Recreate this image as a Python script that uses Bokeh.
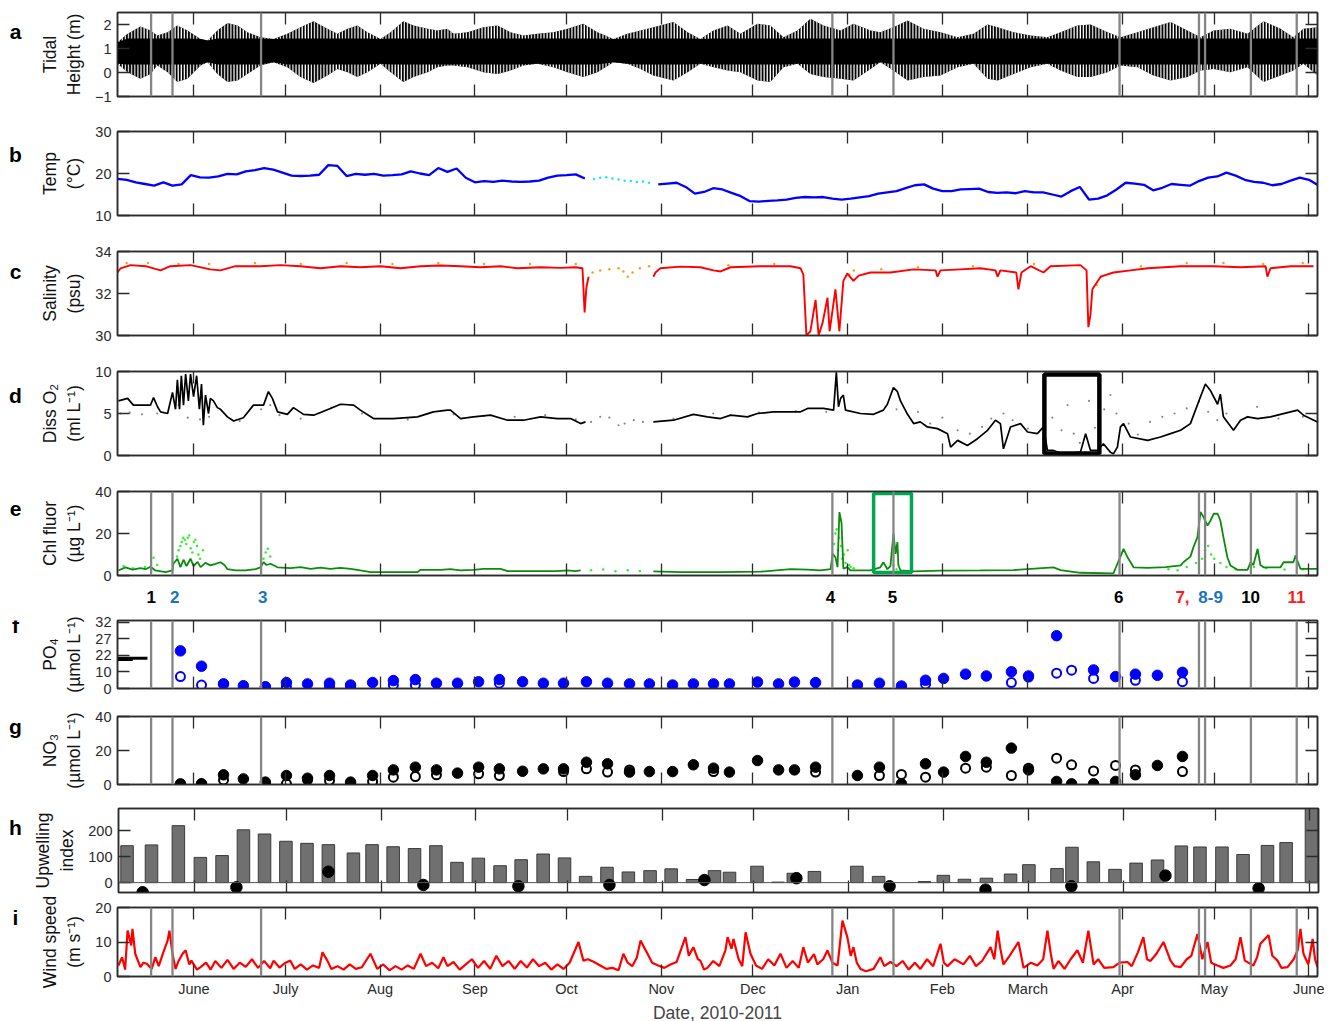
import numpy as np
import pandas as pd
from bokeh.plotting import figure
from bokeh.layouts import column, row
from bokeh.models import Range1d, FixedTicker, LinearAxis, Span
from bokeh.embed import file_html
from bokeh.resources import INLINE
from bokeh.core.properties import value

# ---------------- DATA (x = days since START_DATE) ----------------
START_DATE = "2010-05-07"
END_DAY = 392.8

month_dates = ["2010-06-01", "2010-07-01", "2010-08-01", "2010-09-01", "2010-10-01", "2010-11-01",
               "2010-12-01", "2011-01-01", "2011-02-01", "2011-03-01", "2011-04-01", "2011-05-01", "2011-06-01"]
month_labels = ["June", "July", "Aug", "Sep", "Oct", "Nov", "Dec", "Jan", "Feb", "March", "Apr", "May", "June"]

event_dates = ["2010-05-18", "2010-05-25", "2010-06-23", "2010-12-27", "2011-01-16",
               "2011-03-31", "2011-04-26", "2011-04-28", "2011-05-13", "2011-05-28"]
event_text = ["1", "2", "3", "4", "5", "6", "7,", "8-9", "10", "11"]
event_text_day = [11.0, 18.7, 47.5, 233.4, 253.7, 327.7, 348.6, 357.8, 370.9, 385.9]
event_text_color = ["#000000", "#1c75bc", "#1c75bc", "#000000", "#000000", "#000000",
                    "#ff1a1a", "#1c75bc", "#000000", "#ff1a1a"]

# (a) tidal height envelope
tide_day = [0, 3.3, 7.5, 10.8, 13.0, 16.4, 19.6, 22.9, 27.2, 29.5, 32.7, 36.0, 39.3, 42.5, 46.8, 51.1,
            55.6, 59.9, 64.2, 68.7, 72.0, 75.3, 78.5, 81.8, 86.1, 89.4, 93.6, 96.9, 101.5, 104.7, 108.0,
            110.0, 114.6, 119.8, 124.4, 128.6, 132.9, 137.5, 142.7, 147.3, 152.5, 157.1, 162.4, 166.9,
            171.2, 175.4, 182.0, 186.6, 190.8, 195.1, 199.7, 203.9, 209.5, 213.7, 218.0, 222.6, 226.8,
            231.1, 236.7, 240.9, 246.5, 249.7, 254.0, 258.6, 263.8, 269.4, 275.0, 280.2, 284.8, 288.1,
            293.3, 298.9, 304.4, 308.7, 314.2, 318.5, 324.1, 328.3, 333.9, 339.1, 344.7, 350.2, 354.5,
            358.8, 364.3, 369.9, 375.1, 380.7, 384.9, 388.2, 392.8]
tide_high = [1.26, 1.61, 1.92, 1.75, 1.54, 1.68, 1.96, 1.75, 1.40, 1.33, 1.75, 2.06, 1.96, 1.68, 1.47, 1.40,
             1.61, 1.89, 2.14, 1.82, 1.61, 1.82, 1.96, 1.68, 1.40, 1.68, 2.14, 1.96, 1.82, 1.75, 1.82,
             1.61, 1.68, 1.89, 1.96, 1.68, 1.54, 1.61, 1.68, 1.82, 2.03, 1.68, 1.40, 1.61,
             1.75, 1.89, 2.10, 1.68, 1.40, 1.75, 1.96, 1.61, 2.03, 1.96, 1.47, 1.75, 2.24,
             1.96, 1.75, 2.03, 1.75, 1.68, 1.89, 2.17, 1.82, 1.68, 1.47, 1.61, 2.00, 1.89,
             1.68, 1.54, 1.47, 1.68, 1.96, 2.00, 1.68, 1.47, 1.68, 1.89, 2.10, 1.75, 1.47,
             1.75, 1.82, 1.61, 2.14, 1.82, 1.47, 1.82, 1.89]
tide_low = [0.36, 0.01, -0.26, -0.06, 0.29, 0.01, -0.40, -0.26, 0.29, 0.43, -0.06, -0.40, -0.33, -0.06, 0.29, 0.43,
            0.22, -0.19, -0.44, -0.13, 0.15, 0.01, -0.19, 0.01, 0.36, 0.01, -0.40, -0.19, 0.01, 0.22, 0.29,
            0.29, 0.22, 0.01, -0.06, 0.08, 0.29, 0.36, 0.22, 0.01, -0.19, 0.01, 0.43, 0.36,
            0.15, -0.13, -0.33, 0.01, 0.36, 0.22, 0.08, 0.01, -0.33, -0.40, 0.22, 0.36, -0.06,
            -0.19, -0.26, -0.33, 0.15, 0.43, 0.08, -0.33, -0.19, -0.13, 0.22, 0.36, -0.26, -0.33,
            -0.06, 0.22, 0.36, 0.08, -0.19, -0.19, 0.01, 0.29, 0.22, -0.13, -0.33, -0.19, 0.08,
            0.15, 0.01, 0.22, -0.40, -0.13, 0.08, 0.36, -0.13]

# (b) temperature, every 3 days from START_DATE
temp_step = 3
temp_c = [18.7, 18.5, 17.9, 17.5, 17.1, 17.9, 17.1, 17.4, 19.6, 19.1, 19.0, 19.3, 19.9, 19.8, 20.5, 20.8,
          21.3, 20.9, 20.2, 19.5, 19.4, 19.5, 19.7, 22.0, 21.8, 19.4, 19.9, 19.7, 19.9, 19.5, 19.6, 19.8,
          20.5, 20.0, 19.6, 21.3, 20.4, 21.2, 19.0, 17.9, 18.2, 18.0, 18.3, 18.1, 18.0, 18.1, 18.3, 19.0,
          19.5, 19.6, 19.8, 18.8, np.nan, np.nan, np.nan, np.nan, np.nan, np.nan, np.nan,
          17.4, 17.6, 17.8, 16.8, 15.2, 15.6, 16.5, 16.2, 15.4, 14.6, 13.4, 13.3, 13.5, 13.6, 13.8, 14.2,
          14.4, 14.3, 14.4, 14.0, 13.8, 14.0, 14.3, 14.6, 15.2, 15.5, 15.8, 16.5, 17.2, 17.4, 16.4, 15.8,
          15.8, 16.2, 16.3, 16.4, 15.6, 15.4, 15.5, 15.3, 15.8, 15.5, 15.5, 15.0, 14.5, 15.8, 16.8, 13.8,
          14.0, 14.8, 16.2, 17.8, 17.6, 17.3, 16.0, 16.6, 17.5, 17.3, 17.1, 18.2, 19.0, 19.3, 20.2, 19.5,
          18.5, 18.0, 17.8, 17.2, 17.5, 18.3, 19.0, 18.5, 17.2]
temp2_day = [156, 158, 160, 162, 164, 166, 168, 170, 172, 174]
temp2_c = [18.7, 19.0, 19.1, 18.8, 18.6, 18.3, 18.2, 18.0, 18.1, 17.8]

# (c) salinity
sal_day = [0, 1.0, 4.3, 9.2, 14.1, 17.3, 23.9, 30.4, 33.7, 38.6, 46.8, 53.4, 59.9, 66.4, 73.0, 79.5, 86.1,
           92.6, 99.2, 105.7, 112.3, 118.8, 125.4, 130.9, 138.5, 145.0, 149.9, 152.2, 152.9, 153.5, 154.2,
           155.0, 175.4, 176.1, 177.7, 184.3, 190.8, 195.1, 197.4, 200.7, 210.5, 220.3, 223.6, 224.5,
           225.5, 226.8, 228.5, 229.5, 230.8, 232.4, 233.1, 235.0, 236.3, 237.6, 238.9, 240.9, 242.6,
           246.5, 253.0, 260.6, 267.8, 268.4, 269.4, 275.9, 282.5, 287.4, 288.1, 289.0, 294.2, 294.9,
           295.9, 298.9, 303.1, 305.4, 315.2, 317.2, 317.8, 318.5, 319.1, 321.8, 326.0, 331.6, 337.2,
           348.0, 358.8, 367.6, 375.8, 376.4, 377.4, 384.0, 391.5]
sal_psu = [33.0, 33.2, 33.35, 33.3, 33.1, 33.3, 33.35, 33.15, 33.1, 33.3, 33.3, 33.35, 33.3, 33.2, 33.3, 33.25,
           33.3, 33.2, 33.3, 33.33, 33.3, 33.25, 33.3, 33.2, 33.25, 33.22, 33.25, 33.2, 31.1, 32.3, 32.8,
           np.nan, 32.8, 33.0, 33.2, 33.28, 33.25, 33.1, 33.05, 33.25, 33.3, 33.3, 33.2, 32.9,
           30.0, 30.2, 31.7, 30.0, 30.6, 31.8, 30.2, 32.2, 30.2, 32.6, 32.95, 32.6, 32.85,
           33.0, 33.0, 33.15, 33.1, 32.8, 33.1, 33.15, 33.2, 33.1, 32.8, 33.1, 33.0, 32.2,
           33.0, 33.3, 33.0, 33.3, 33.35, 33.1, 30.4, 31.0, 32.2, 32.8, 33.0, 33.1, 33.2,
           33.3, 33.3, 33.25, 33.3, 32.8, 33.2, 33.3, 33.3]
sal2_day = [3, 10, 20, 30, 45, 60, 75, 90, 105, 120, 135, 150, 155.5, 158, 161, 164, 165.6, 167, 168.6,
            171, 174, 200, 215, 239.5, 241, 250, 262, 280, 300, 320.5, 322, 335, 350, 362, 375, 388]
sal2_psu = [33.45, 33.45, 33.4, 33.4, 33.45, 33.4, 33.45, 33.4, 33.45, 33.4, 33.4, 33.4, 33.0, 33.1, 33.15,
            33.2, 33.05, 32.8, 33.0, 33.2, 33.3, 33.35, 33.4, 32.9, 33.1, 33.15, 33.25, 33.3, 33.4,
            32.4, 32.8, 33.3, 33.45, 33.45, 33.4, 33.45]

# (d) dissolved oxygen
o2_day = [0.3, 3.3, 5.2, 10.8, 11.8, 13.1, 14.1, 16.4, 18.0, 19.0, 19.6, 20.3, 20.9, 21.6, 22.3, 23.2, 23.9,
          24.9, 25.9, 26.8, 27.5, 28.1, 28.8, 29.8, 30.4, 31.4, 32.7, 33.7, 36.0, 38.0, 41.2, 44.5, 47.8,
          49.4, 50.7, 52.4, 55.6, 57.6, 60.9, 64.2, 69.7, 73.0, 77.3, 79.5, 83.8, 90.3, 98.2, 103.4, 108.0,
          109.0, 112.3, 116.5, 122.1, 127.7, 132.9, 138.5, 144.0, 148.3, 151.6, 153.2, 154.0,
          175.4, 182.0, 188.5, 193.1, 197.4, 200.7, 206.2, 209.5, 214.7, 223.6, 225.9, 231.1, 234.4,
          235.3, 236.0, 236.7, 237.6, 238.3, 243.2, 247.5, 250.7, 252.0, 254.0, 255.3, 256.3, 258.6,
          260.6, 262.8, 265.1, 268.4, 271.7, 272.7, 275.0, 278.2, 281.5, 284.8, 287.4, 289.0, 290.0,
          292.3, 295.6, 297.9, 301.1, 303.1, 304.4, 306.4, 308.7, 311.9, 315.2, 316.9, 318.5, 320.8,
          322.7, 325.0, 326.0, 327.3, 328.3, 329.3, 331.6, 337.2, 341.4, 344.7, 348.0, 351.2, 354.5,
          356.1, 357.8, 360.1, 361.0, 362.0, 365.3, 367.6, 369.9, 373.2, 377.4, 386.3, 388.2, 392.8]
o2_ml = [6.5, 6.8, 6.0, 6.0, 6.9, 5.8, 5.2, 5.0, 7.5, 5.5, 9.0, 5.5, 9.5, 6.0, 9.7, 6.5, 9.7,
         7.0, 9.5, 5.5, 8.5, 3.6, 7.2, 5.0, 6.8, 6.5, 5.7, 5.5, 4.6, 4.1, 4.5, 6.0, 6.0,
         7.6, 6.8, 5.2, 4.9, 5.7, 4.9, 4.8, 5.6, 6.1, 6.0, 5.4, 4.4, 4.4, 4.6, 5.2, 5.4,
         5.4, 4.4, 4.6, 4.8, 4.2, 4.2, 4.6, 4.4, 4.4, 3.8, 4.0, np.nan,
         4.0, 4.2, 4.9, 4.6, 4.4, 4.8, 4.6, 5.0, 5.2, 5.2, 5.6, 5.6, 5.4,
         9.9, 5.8, 6.8, 7.2, 5.4, 5.0, 4.9, 5.4, 6.1, 8.1, 7.6, 6.5, 4.9,
         3.8, 4.0, 3.4, 3.2, 2.6, 1.0, 1.8, 1.2, 2.0, 3.0, 4.2, 3.8, 0.8,
         3.4, 3.8, 2.8, 2.6, 3.4, 0.6, 0.6, 0.3, 0.3, 0.4, 2.6, 0.6, 0.6,
         1.4, 0.4, 0.2, 1.0, 3.4, 3.8, 2.2, 1.8, 2.2, 2.6, 3.0, 3.8, 7.0,
         8.5, 7.7, 6.1, 7.3, 4.6, 3.0, 4.2, 4.6, 4.4, 4.6, 5.4, 4.8, 4.0]
o2b_day = [1, 4, 8, 13, 20, 23, 27, 30, 40, 47, 50, 53, 60, 70, 80, 95, 110, 120, 130, 140, 150, 155, 158,
           161, 164, 166, 169, 172, 182, 195, 210, 222, 232, 255, 262, 266, 270, 275, 279, 283, 286, 290,
           293, 298, 303, 306, 309, 311, 313, 315, 318, 320, 323, 325, 327, 331, 334, 338, 342, 346, 350,
           354, 357, 360, 363, 370, 373, 380, 388]
o2b_ml = [5.0, 5.1, 4.9, 5.0, 6.0, 4.5, 4.3, 4.6, 4.1, 5.5, 6.0, 4.8, 4.4, 5.7, 5.0, 4.3, 4.9, 4.7, 4.6, 4.8,
          4.3, 4.0, 4.6, 4.5, 3.6, 3.8, 4.2, 4.0, 4.4, 5.0, 5.1, 5.3, 5.2, 5.5, 5.2, 3.8, 4.5, 3.0, 2.6,
          3.4, 4.4, 5.0, 4.2, 3.2, 2.0, 4.5, 3.0, 6.0, 2.6, 1.5, 6.5, 3.3, 5.5, 7.2, 5.0, 3.8, 2.5, 4.0,
          4.6, 5.0, 5.6, 6.4, 5.2, 4.2, 5.0, 4.6, 5.8, 4.4, 4.6]
o2_box = dict(left=[303.4], right=[321.4], bottom=[0.25], top=[9.65])

# (e) chlorophyll fluorescence
chl_day = [0.3, 2.6, 4.9, 7.5, 9.2, 10.8, 12.4, 15.7, 18.0, 18.3, 19.6, 20.6, 21.6, 22.6, 23.9, 24.9, 26.2,
           27.2, 28.8, 30.4, 32.1, 33.7, 35.0, 36.0, 38.6, 41.9, 45.2, 46.8, 47.8, 48.8, 50.1, 52.4, 56.6,
           59.9, 63.2, 66.4, 69.7, 73.0, 76.3, 79.5, 82.8, 89.4, 98.2, 99.2, 105.7, 109.0, 112.3, 116.5,
           119.8, 125.4, 127.7, 138.5, 144.0, 147.3, 149.9, 151.6, 153.0, 175.4, 184.3, 197.4, 210.5,
           220.3, 225.9, 230.1, 233.4, 234.1, 235.0, 235.7, 236.3, 237.0, 237.6, 238.9, 239.9, 246.5,
           249.7, 250.7, 252.0, 253.0, 254.0, 254.7, 255.3, 255.6, 256.3, 260.6, 269.4, 282.5, 293.3,
           306.4, 308.7, 315.2, 326.0, 327.3, 328.3, 329.3, 330.6, 332.6, 337.2, 343.1, 348.0, 348.9,
           351.2, 352.2, 353.5, 354.5, 355.5, 356.8, 357.8, 358.8, 360.1, 361.0, 362.0, 363.3, 364.3,
           366.6, 369.9, 370.9, 371.8, 373.2, 374.1, 375.1, 380.7, 381.7, 384.9, 385.6, 387.2, 391.5, 392.8]
chl_ug = [2.4, 3.9, 2.8, 3.5, 3.0, 4.2, 2.4, 1.6, 2.4, 5.6, 8.0, 4.0, 7.5, 4.5, 8.0, 4.5, 6.5,
          4.0, 6.0, 4.8, 5.5, 6.3, 5.0, 3.0, 2.4, 2.4, 3.0, 3.9, 6.3, 5.0, 5.6, 3.9, 3.5,
          4.0, 3.2, 3.8, 3.2, 3.6, 3.2, 2.4, 1.6, 1.6, 1.6, 2.7, 2.7, 3.0, 2.4, 2.7,
          3.2, 3.2, 2.1, 2.1, 2.1, 2.4, 2.1, 2.4, np.nan, 2.0, 1.6, 1.6, 1.8,
          3.0, 2.8, 2.4, 3.0, 10.3, 8.7, 4.0, 30.2, 25.0, 3.2, 4.0, 2.4, 2.4,
          3.9, 6.3, 3.0, 4.5, 19.9, 10.3, 15.9, 5.0, 2.4, 2.0, 2.3, 2.4, 2.6,
          3.9, 2.6, 1.3, 1.0, 5.6, 9.0, 12.7, 8.7, 3.9, 3.6, 4.0, 4.8, 6.3,
          9.0, 13.5, 18.3, 30.2, 27.8, 23.8, 26.2, 29.4, 29.4, 26.2, 18.3, 8.7, 4.8,
          2.7, 2.7, 6.3, 5.0, 12.7, 5.0, 3.9, 3.9, 6.3, 6.3, 9.5, 3.2, 3.2, 3.2]
chl2_day = [2, 5, 9, 11.8, 13, 19.5, 20, 20.6, 21, 21.5, 22, 22.5, 23, 23.5, 24, 24.5, 25, 25.5, 26, 26.5,
            27, 28, 47.8, 48.5, 49.2, 50, 155, 159, 163, 167, 171, 234.5, 235, 235.4, 235.8, 236.2, 236.8,
            237.2, 237.8, 238.3, 239, 239.5, 240, 241, 254, 255, 344, 347, 350, 353, 355, 356, 357, 358,
            359, 361, 363, 366, 372, 376, 382, 388]
chl2_ug = [4.5, 3.5, 4.0, 8.5, 5.0, 9, 12, 14, 16, 18, 17, 15, 18, 19, 13, 11, 16, 17, 14, 10,
           8, 12, 8, 11, 12.7, 9, 2.5, 2.8, 2.0, 2.5, 2.2, 15, 20, 22, 12, 18, 14,
           8, 10, 6, 12, 5, 4, 3.5, 5, 3, 3, 2.5, 4, 6, 8, 12, 14, 10,
           8, 6, 4, 3, 4, 3.5, 2.8, 3]
chl_box = dict(left=[247.5], right=[259.9], bottom=[1.4], top=[39.0])

# (f, g) nutrients, sampling days
nan = np.nan
nut_day = [20.6, 27.5, 34.7, 41.2, 48.4, 55.3, 62.2, 69.4, 76.3, 83.5, 90.3, 97.5, 104.4, 111.3, 118.2,
           125.0, 132.6, 139.4, 146.0, 153.5, 160.4, 167.6, 174.1, 181.7, 188.5, 195.1, 200.3, 209.5,
           216.4, 221.6, 228.5, 242.2, 249.4, 256.6, 264.5, 270.4, 277.6, 284.4, 292.6, 298.2, 307.4,
           312.3, 319.5, 326.7, 333.2, 340.4, 348.6]
po4_filled = [23.4, 14.2, 2.8, 1.7, 1.0, 3.6, 2.8, 3.2, 2.1, 3.6, 4.8, 5.4, 3.2, 3.2, 4.1,
              5.4, 4.1, 3.2, 3.2, 4.1, 3.2, 2.8, 2.8, 2.1, 2.8, 2.8, 2.8, 3.9,
              2.8, 3.9, 3.6, 2.1, 3.2, 1.5, 5.0, 6.1, 8.7, 7.6, 10.2, 7.6, 28.0,
              nan, 11.5, 7.2, 8.7, 8.0, 9.8]
po4_open = [7.2, 2.1, 2.8, nan, 1.0, 1.0, nan, 1.0, 1.0, nan, 2.1, 2.1, nan, nan, nan,
            3.2, nan, nan, nan, nan, nan, nan, nan, nan, nan, nan, nan, nan,
            nan, nan, nan, nan, nan, nan, 2.6, nan, nan, nan, 3.6, 6.9, 9.3,
            11.3, 6.1, nan, 5.0, nan, 4.1]
po4_ref_value = [20.0, 19.0]
po4_ref_end_day = [9.8, 5.0]
no3_filled = [0.4, 0.4, 5.7, 3.3, 1.4, 5.3, 3.7, 5.3, 1.4, 5.3, 8.6, 10.2, 8.6, 6.7, 10.2,
              9.2, 7.8, 9.2, 9.2, 13.1, 12.2, 7.3, 7.6, 7.6, 11.6, 9.6, 7.3, 14.1,
              8.6, 8.6, 10.2, 5.3, 10.2, 0.4, 12.2, 7.3, 16.5, 13.1, 21.4, 8.6, 1.8,
              0.4, 0.4, 1.8, 5.7, 11.2, 16.5]
no3_open = [nan, 0.4, 2.7, nan, 0.4, 0.4, 2.7, 2.4, 0.4, 1.8, 4.3, 4.7, 5.7, nan, 6.3,
            5.3, nan, nan, 7.6, 9.2, 7.3, 8.6, nan, nan, nan, 7.6, nan, nan,
            nan, nan, 7.3, nan, 5.3, 5.9, 4.3, nan, 9.6, 10.2, 5.3, 9.6, 15.5,
            11.6, 8.0, 11.2, 8.6, nan, 7.6]

# (h) upwelling index (weekly bars) and monthly values
upw_day = [2.8, 10.8, 19.6, 26.8, 33.9, 40.9, 47.8, 54.8, 61.7, 68.7, 76.9, 83.0, 89.9, 96.9, 103.9, 110.8,
           117.8, 124.9, 131.8, 139.0, 146.0, 152.9, 159.9, 166.9, 174.0, 180.9, 187.9, 195.1, 200.0,
           209.0, 215.9, 220.9, 227.8, 241.7, 248.8, 263.8, 270.0, 276.9, 284.1, 292.0, 298.0, 307.2,
           312.1, 319.1, 326.2, 333.1, 340.1, 347.9, 354.0, 361.2, 368.1, 376.1, 382.2, 390.5]
upw_index = [142, 145, 219, 97, 104, 203, 187, 159, 151, 146, 114, 146, 138, 131, 142, 78,
             94, 65, 88, 110, 95, 24, 59, 41, 46, 53, 12, 46, 40,
             63, 2, 36, 43, 63, 24, 4, 28, 13, 17, 33, 69, 54,
             136, 80, 51, 75, 87, 141, 137, 137, 108, 143, 154, 310]
upw_month_day = [7.9, 38.6, 68.7, 99.8, 130.9, 160.7, 191.8, 221.9, 252.4, 283.8, 311.9, 342.7, 373.2]
upw_month_val = [-37, -18, 42, -9, -14, -9, 10, 17, -14, -27, -14, 27, -22]

# (i) wind speed
wind_day = [0.3, 1.5, 2.5, 3.3, 4.5, 4.9, 5.8, 7.5, 8.5, 9.6, 11.2, 12.4, 13.5, 14.1, 15.0, 16.4, 17.0, 18.0,
            19.0, 20.0, 21.3, 22.3, 23.5, 24.2, 26.0, 27.2, 29, 30.5, 32, 34, 36, 38, 40, 42, 44, 46, 48,
            50, 51.1, 53, 55, 56.6, 58, 60, 62, 64, 66, 67.1, 68.7, 70, 72, 74, 76, 78, 80, 82.8, 85, 87,
            89, 91, 93, 95, 97, 99.2, 101, 103, 105, 106.7, 108, 110, 112, 114, 116, 118, 120, 122, 124,
            126, 128, 130, 132, 134, 136, 138, 140, 142, 144, 146, 148, 150.9, 152.5, 154, 156, 158, 160,
            162, 164, 165.6, 167, 168.5, 170, 171.2, 173.5, 175, 177, 179, 181, 183, 185.9, 187, 188.5,
            190, 190.8, 192, 193.1, 195, 197, 199, 199.7, 201, 201.6, 203.3, 204.5, 205.6, 207.2, 209,
            211, 213, 215, 217, 219, 221, 223, 224.5, 226, 228, 229.1, 231, 232.4, 234, 235.7, 237.3,
            238.9, 240, 240.9, 242, 243.2, 245, 247.5, 249.7, 251, 253, 255, 257, 259, 261, 262.8, 265,
            267, 269.4, 270.5, 271.7, 274, 276.9, 279, 281, 283, 285.8, 287, 288.1, 289, 290, 292, 294.9,
            296.6, 299, 301.1, 303, 304.4, 305.5, 306.4, 308, 310, 312, 314.2, 316, 317.8, 319.5, 321,
            323, 326.0, 328, 330.6, 332, 334, 335.8, 337, 338.1, 340, 342.4, 344.7, 346, 348.0, 350,
            351.5, 353.5, 355.1, 356.8, 358, 360, 362, 364.3, 366, 367.6, 369, 371.8, 373, 374.1, 376.8,
            378, 379.7, 381, 383.0, 385, 386.3, 387.2, 388.2, 389.8, 391.2, 392.0, 392.8]
wind_ms = [3.2, 5.6, 2.0, 13.3, 9.0, 13.8, 6.6, 2.7, 4.0, 3.7, 2.2, 5.6, 3.0, 4.6, 7.0, 10.4, 13.3, 6.6,
           2.2, 4.5, 6.6, 7.6, 3.5, 4.6, 2.0, 2.7, 4.0, 2.0, 4.5, 2.5, 4.8, 2.2, 4.0, 2.8, 5.0, 2.5, 4.5,
           2.4, 4.6, 2.6, 4.0, 4.6, 2.2, 3.5, 2.0, 3.2, 2.5, 7.0, 4.6, 2.2, 3.0, 2.0, 3.5, 2.2, 2.7, 6.6,
           2.2, 3.5, 1.8, 3.0, 2.0, 3.2, 2.2, 6.6, 3.0, 4.0, 2.4, 5.6, 3.0, 4.2, 2.0, 3.5, 5.0, 2.5, 4.5,
           2.2, 6.0, 3.0, 4.5, 2.2, 4.5, 2.6, 5.0, 3.0, 4.0, 2.0, 3.5, 2.2, 4.0, 10.0, 4.6, 5.0, 4.2, 3.2,
           2.2, 2.5, 1.8, 6.6, 4.0, 3.0, 5.5, 10.4, 6.6, 4.0, 3.2, 2.5, 3.5, 4.2, 11.4, 6.0, 8.5, 5.0, 4.6,
           2.0, 2.5, 4.5, 3.0, 7.6, 11.4, 8.0, 10.9, 5.1, 3.0, 12.8, 6.6, 3.2, 2.2, 5.0, 3.2, 6.6, 2.5,
           4.5, 2.5, 8.5, 4.0, 6.5, 3.5, 5.0, 7.6, 4.0, 3.2, 16.2, 11.4, 6.0, 8.5, 4.0, 2.2, 1.5, 2.2, 5.6,
           3.0, 4.2, 3.0, 4.5, 2.0, 4.0, 2.2, 5.0, 3.0, 9.5, 4.0, 3.0, 5.0, 3.5, 6.0, 3.0, 4.5, 8.5, 5.0,
           13.3, 8.0, 3.5, 6.0, 10.0, 2.5, 4.0, 3.2, 5.0, 13.3, 6.6, 2.2, 4.5, 2.2, 5.0, 7.6, 4.0, 13.3,
           3.5, 5.0, 2.5, 2.7, 4.0, 4.2, 3.0, 7.0, 11.4, 5.0, 4.5, 6.5, 10.0, 4.6, 3.0, 2.7, 5.0, 6.0,
           12.3, 5.0, 10.0, 4.0, 3.2, 2.5, 3.2, 5.0, 11.4, 4.6, 3.2, 5.5, 9.5, 12.0, 6.0, 4.6, 2.5, 2.7,
           5.0, 7.6, 13.8, 6.6, 3.5, 10.9, 5.0, 2.7]

# ---------------- helpers ----------------
T0 = pd.Timestamp(START_DATE)


def days_since_start(dates):
    return [float((pd.Timestamp(d) - T0) / pd.Timedelta(days=1)) for d in dates]


month_ticks = days_since_start(month_dates)
event_days = days_since_start(event_dates)
temp_day = [i * temp_step for i in range(len(temp_c))]

FONT = "Liberation Sans"
AX = "#2b2b2b"
EV = "#858585"
X0, X1 = 0.0, END_DAY
LETTER_W = 30
LEFT_BORDER = 117 - LETTER_W
FRAME_W = 1200
RIGHT_BORDER = 7


def style_axis(ax, show_labels=True):
    ax.major_tick_in = 12
    ax.major_tick_out = 0
    ax.minor_tick_line_color = None
    ax.axis_line_color = AX
    ax.axis_line_width = 1.5
    ax.major_tick_line_color = AX
    ax.major_tick_line_width = 1.3
    ax.major_label_text_font = FONT
    if show_labels:
        ax.major_label_text_font_size = "14.5px"
        ax.major_label_text_color = "#2a2a2a"
    else:
        ax.major_label_text_font_size = "1px"
        ax.major_label_text_color = None
        ax.major_label_standoff = 0


def make_panel(ylo, yhi, yticks, frame_h, top, bottom, ylabel, y_overrides=None, show_x=False):
    p = figure(frame_width=FRAME_W, frame_height=frame_h,
               x_range=Range1d(X0, X1), y_range=Range1d(ylo, yhi),
               output_backend="svg", toolbar_location=None,
               min_border_left=LEFT_BORDER, min_border_right=RIGHT_BORDER,
               min_border_top=top, min_border_bottom=bottom,
               background_fill_color="white", border_fill_color="white")
    p.grid.visible = False
    p.outline_line_color = AX
    p.outline_line_width = 1.5
    p.xaxis.ticker = FixedTicker(ticks=month_ticks)
    p.yaxis.ticker = FixedTicker(ticks=yticks)
    for ax in p.xaxis:
        style_axis(ax, show_x)
        if show_x:
            ax.major_label_overrides = {t: l for t, l in zip(month_ticks, month_labels)}
            ax.major_label_standoff = 4
            ax.axis_label = "Date, 2010-2011"
            ax.axis_label_text_font = FONT
            ax.axis_label_text_font_size = "17.5px"
            ax.axis_label_text_font_style = "normal"
            ax.axis_label_standoff = 3
    for ax in p.yaxis:
        style_axis(ax)
        ax.major_label_standoff = 6
        if y_overrides:
            ax.major_label_overrides = y_overrides
        ax.axis_label = ylabel
        ax.axis_label_text_font = FONT
        ax.axis_label_text_font_size = "17.5px"
        ax.axis_label_text_font_style = "normal"
        ax.axis_label_text_color = "#111111"
        ax.axis_label_standoff = 8
    ra = LinearAxis(ticker=FixedTicker(ticks=yticks))
    style_axis(ra, False)
    p.add_layout(ra, "right")
    ta = LinearAxis(ticker=FixedTicker(ticks=month_ticks))
    style_axis(ta, False)
    p.add_layout(ta, "above")
    return p


def letter_column(letter, fig_height, y_from_top):
    q = figure(width=LETTER_W, height=fig_height, x_range=Range1d(0, LETTER_W),
               y_range=Range1d(fig_height, 0), output_backend="svg", toolbar_location=None,
               x_axis_location=None, y_axis_location=None, min_border=0,
               background_fill_color="white", border_fill_color="white")
    q.outline_line_color = None
    q.grid.visible = False
    q.text(x=[LETTER_W / 2], y=[y_from_top], text=[letter], text_font=value(FONT),
           text_font_size="21px", text_font_style="bold", text_align="center",
           text_baseline="middle", text_color="#000000")
    return q


def add_events(p):
    for d in event_days:
        p.add_layout(Span(location=d, dimension="height", line_color=EV, line_width=2.3))


rows = []


def add_row(p, letter, top, frame_h, bottom, letter_y):
    rows.append(row(letter_column(letter, top + frame_h + bottom, letter_y), p, spacing=0))


# a
pa = make_panel(-1.0, 2.5, [-1, 0, 1, 2], 84, 12, 17, "Tidal\nHeight (m)")
th = np.array(tide_high)
tl = np.array(tide_low)
pa.varea(x=tide_day, y1=tide_low, y2=tide_high, fill_color="black",
         hatch_pattern="vertical_line", hatch_color="white", hatch_scale=3.1, hatch_weight=1.3)
pa.varea(x=tide_day, y1=np.maximum(tl, 0.33), y2=np.minimum(th, 1.42), fill_color="black")
add_events(pa)
add_row(pa, "a", 12, 84, 17, 25)

# b
pb = make_panel(10, 30, [10, 20, 30], 84, 18, 18, "Temp\n(°C)")
pb.scatter(temp2_day, temp2_c, size=2.5, color="#19e6ff", line_color=None)
pb.line(temp_day, temp_c, line_color="#0000ff", line_width=2.3)
add_row(pb, "b", 18, 84, 18, 33)

# c
pc = make_panel(30, 34, [30, 32, 34], 84, 18, 18, "Salinity\n(psu)")
pc.scatter(sal2_day, sal2_psu, size=2.5, color="#ff9c1a", line_color=None)
pc.line(sal_day, sal_psu, line_color="#ff0000", line_width=1.9)
add_row(pc, "c", 18, 84, 18, 29)

# d
pdo = make_panel(0, 10, [0, 5, 10], 84, 18, 18, "Diss O₂\n(ml L⁻¹)")
pdo.scatter(o2b_day, o2b_ml, size=2.2, color="#8a8a8a", line_color=None)
pdo.line(o2_day, o2_ml, line_color="#000000", line_width=1.7)
pdo.quad(left="left", right="right", bottom="bottom", top="top", source=o2_box,
         fill_color=None, line_color="#000000", line_width=4.5)
add_row(pdo, "d", 18, 84, 18, 34)

# e
pe = make_panel(0, 40, [0, 20, 40], 84, 18, 9, "Chl fluor\n(µg L⁻¹)")
pe.scatter(chl2_day, chl2_ug, size=2.5, color="#33ee33", line_color=None)
pe.line(chl_day, chl_ug, line_color="#0c8c0c", line_width=1.8)
pe.quad(left="left", right="right", bottom="bottom", top="top", source=chl_box,
        fill_color=None, line_color="#00a651", line_width=3.5)
add_events(pe)
add_row(pe, "e", 18, 84, 9, 23)

# event numbers strip
NUM_H = 26
pn = figure(frame_width=FRAME_W, frame_height=NUM_H, x_range=Range1d(X0, X1), y_range=Range1d(NUM_H, 0),
            output_backend="svg", toolbar_location=None, x_axis_location=None, y_axis_location=None,
            min_border_left=117, min_border_right=RIGHT_BORDER, min_border_top=0, min_border_bottom=0,
            background_fill_color="white", border_fill_color="white")
pn.outline_line_color = None
pn.grid.visible = False
pn.text(x=event_text_day, y=[12] * len(event_text), text=event_text, text_color=event_text_color,
        text_font=value(FONT), text_font_size="17px", text_font_style="bold",
        text_align="center", text_baseline="middle")
rows.append(pn)

# f (piecewise axis 0,10,22,27,32 at equal spacing)
po4_breaks = [0, 10, 22, 27, 32]


def po4_scale(v):
    return np.interp(np.array(v, dtype=float), po4_breaks, np.arange(len(po4_breaks)))


pf = make_panel(0, 4.12, list(range(5)), 68, 10, 14, "PO₄\n(µmol L⁻¹)",
                y_overrides={i: str(b) for i, b in enumerate(po4_breaks)})
add_events(pf)
for val, end in zip(po4_ref_value, po4_ref_end_day):
    pf.line([X0, end], [float(po4_scale([val])[0])] * 2, line_color="black", line_width=3)
pf.scatter(nut_day, po4_scale(po4_filled), size=10.5, color="#0000ff", line_color="#0000ff")
pf.scatter(nut_day, po4_scale(po4_open), size=9, fill_color=None, line_color="#0000ff", line_width=2)
add_row(pf, "f", 10, 68, 14, 7)

# g
pg = make_panel(0, 40, [0, 20, 40], 68, 14, 12, "NO₃\n(µmol L⁻¹)")
add_events(pg)
pg.scatter(nut_day, no3_filled, size=10.5, color="#000000")
pg.scatter(nut_day, no3_open, size=9, fill_color=None, line_color="#000000", line_width=2)
add_row(pg, "g", 14, 68, 12, 14)

# h
ph = make_panel(-38, 285, [0, 100, 200], 84, 12, 3, "Upwelling\nindex")
ph.vbar(x=upw_day, width=4.1, top=upw_index, bottom=0, fill_color="#707070",
        line_color="#3a3a3a", line_width=1)
ph.add_layout(Span(location=0, dimension="width", line_color="#555555", line_width=1))
ph.scatter(upw_month_day, upw_month_val, size=11.5, color="#000000")
add_row(ph, "h", 12, 84, 3, 22)

# i
pi = make_panel(0, 20, [0, 10, 20], 69, 12, 44, "Wind speed\n(m s⁻¹)", show_x=True)
add_events(pi)
pi.line(wind_day, wind_ms, line_color="#ff0000", line_width=2.2)
add_row(pi, "i", 12, 69, 44, 20)

layout = column(*rows, spacing=0)
open("out.html", "w").write(file_html(layout, INLINE))
